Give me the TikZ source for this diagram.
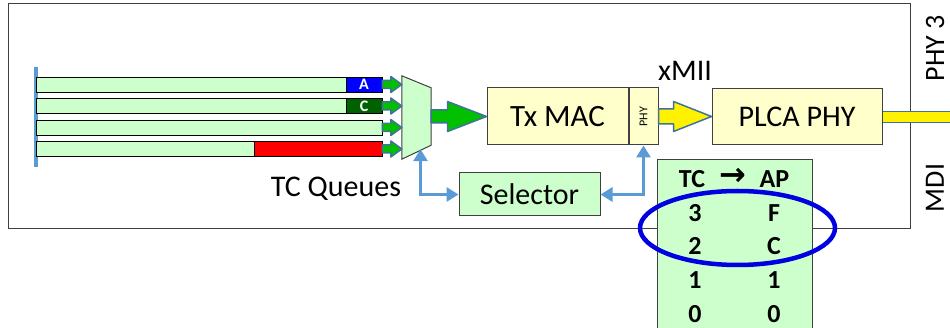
\documentclass[tikz,border=0pt]{standalone}
\usepackage{fontspec}
\setmainfont{Carlito}
\newfontfamily\symfont{DejaVu Sans}
\usepackage{xcolor}
\definecolor{QueueBg}{HTML}{CCFFCC}
\definecolor{MacBg}{HTML}{FFFFCC}
\definecolor{LinkBlue}{HTML}{5B9BD5}
\definecolor{EdgeBlue}{HTML}{41719C}
\definecolor{FatGreen}{HTML}{00C000}
\definecolor{TagBlue}{HTML}{0000FF}
\definecolor{TagGreen}{HTML}{006100}
\definecolor{TagRed}{HTML}{FF0000}
\definecolor{RingBlue}{HTML}{0000E0}
\usetikzlibrary{arrows.meta,positioning,calc,shapes.geometric}

\tikzset{
  fat/.style n args={3}{fill=FatGreen, draw=EdgeBlue, line width=1.5pt, line join=round,
    to path={let \p1=(\tikztostart), \p2=(\tikztotarget) in
      (\x1,{\y1+#1}) -- ({\x2-#3},{\y1+#1}) -- ({\x2-#3},{\y1+#2}) -- (\x2,\y1)
      -- ({\x2-#3},{\y1-#2}) -- ({\x2-#3},{\y1-#1}) -- (\x1,{\y1-#1}) -- cycle}},
}

\begin{document}
\begin{tikzpicture}[x=1pt, y=-1pt, >={Triangle[length=12pt,width=14pt]},
  every node/.style={font=\fontsize{30}{32}\selectfont, inner sep=0pt},
  queue/.style={draw, fill=QueueBg, line width=0.9pt, minimum width=346, minimum height=15},
  tag/.style={draw, line width=0.9pt, minimum height=15, text=white, font=\bfseries\fontsize{16}{16}\selectfont},
  macbox/.style={draw=black!75, fill=MacBg, line width=1pt, minimum height=57},
  greenbox/.style={draw=black!75, fill=QueueBg, line width=1pt},
  cell/.style={font=\bfseries\fontsize{26}{26}\selectfont},
  link/.style={draw=LinkBlue, line width=3.2pt, <->}]
  \useasboundingbox (0,0) rectangle (950,328);

  % outer board
  \node[draw=black!75, line width=1pt, minimum width=902, minimum height=225] (board) at (459,116.5) {};

  % TC queues
  \draw[LinkBlue, line width=3.5pt] (36,67) -- (36,167);
  \foreach \i/\y in {1/84.5, 2/106, 3/127.5, 4/149}
    \node[queue] (q\i) at (209,\y) {};
  \node[tag, fill=TagBlue, minimum width=36, anchor=east] (tagA) at (q1.east) {A};
  \node[tag, fill=TagGreen, minimum width=36, anchor=east] (tagC) at (q2.east) {C};
  \node[tag, fill=TagRed, minimum width=128, anchor=east] (tagR) at (q4.east) {};
  \node (queues) at (336,189) {TC Queues};

  % mux
  \node[minimum width=29, minimum height=83] (mux) at (416.5,117.5) {};
  \draw[fill=QueueBg, draw=black!75, line width=1pt] (mux.north west) -- ([yshift=-12pt]mux.north east)
    -- ([yshift=14pt]mux.south east) -- (mux.south west) -- cycle;
  \foreach \i in {1,...,4}
    \draw[fat={4pt}{8pt}{11pt}] (q\i.east) to (q\i.east -| mux.west);

  % MAC and PHY
  \node[macbox, minimum width=141, font=\fontsize{31}{32}\selectfont] (txmac) at (557.5,116.5) {Tx MAC};
  \node[macbox, minimum width=29, right=0pt of txmac] (phy) {};
  \node[rotate=90, font=\fontsize{12}{12}\selectfont] at (phy) {PHY};
  \node[macbox, minimum width=170, minimum height=56] (plca) at (797,117) {PLCA PHY};
  \node (xmii) at (685,71) {xMII};
  \coordinate (mdi) at (952,117);

  \draw[fat={6.5pt}{15pt}{39pt}] (mux.east |- txmac.west) to (txmac.west);
  \draw[fat={7.5pt}{15pt}{38pt}, fill=yellow] (phy.east) to (plca.west);
  \draw[draw=EdgeBlue, line width=1.2pt, double=yellow, double distance=10pt] (plca.east) -- (mdi);

  \node[rotate=90, font=\fontsize{28}{30}\selectfont] (phy3) at (935,48) {PHY 3};
  \node[rotate=90, font=\fontsize{28}{30}\selectfont] (mdilabel) at (935,188) {MDI};

  % selector
  \node[greenbox, minimum width=141, minimum height=43] (sel) at (529.5,194.5) {Selector};
  \draw[link] (sel.west) -| ($(mux.south)+(4,-10)$);
  \draw[link] (sel.east) -| (phy.south);

  % TC to AP table
  \node[greenbox, minimum width=155, minimum height=180, anchor=north west] (map) at (657,159) {};
  \node[cell] (tchead) at (692,179) {TC};
  \node[cell, font=\symfont\bfseries\fontsize{32}{32}\selectfont] (maparrow) at (733,177) {→};
  \node[cell] (aphead) at (774.5,179) {AP};
  \foreach \tc/\ap [count=\i] in {3/F, 2/C, 1/1, 0/0} {
    \node[cell] (tc\i) at (695,{179+33.7*\i}) {\tc};
    \node[cell] (ap\i) at (774,{179+33.7*\i}) {\ap};
  }
  \node[ellipse, draw=RingBlue, line width=4.5pt, minimum width=195, minimum height=74] (ring) at (737.5,228) {};
\end{tikzpicture}
\end{document}
